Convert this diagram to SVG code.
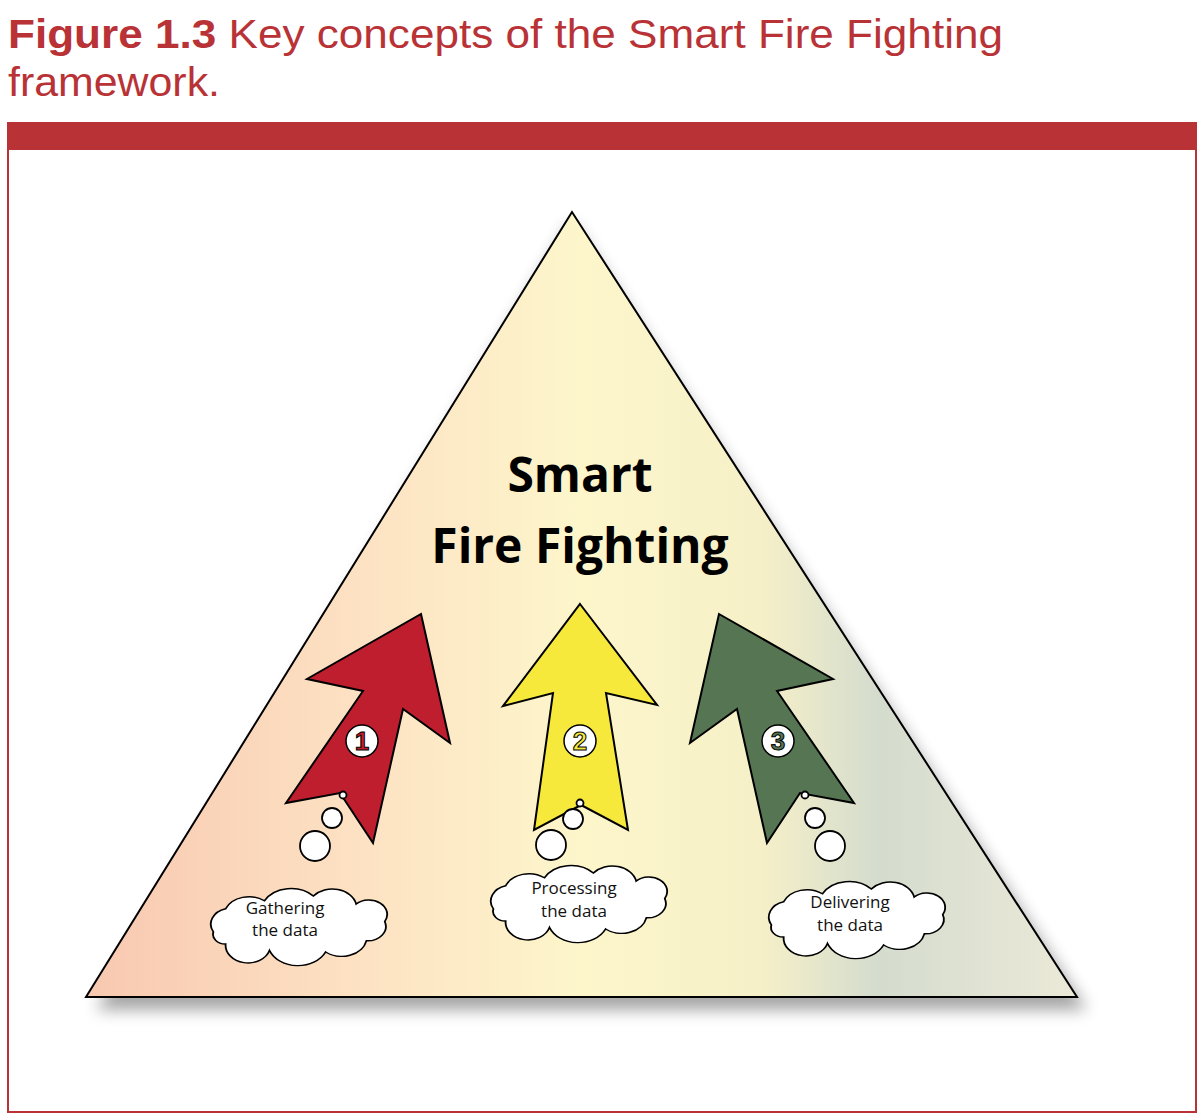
<svg xmlns="http://www.w3.org/2000/svg" width="1200" height="1120" viewBox="0 0 1200 1120">
<style>
.title{font-family:"Liberation Sans",Arial,sans-serif;font-size:41px;fill:#b83236}
.big{font-family:"Open Sans",sans-serif;font-weight:bold;font-size:48px;fill:#000;text-anchor:middle}
.lbl{font-family:"Open Sans",sans-serif;font-size:17px;fill:#111;text-anchor:middle}
.num{font-family:"Liberation Sans",Arial,sans-serif;font-weight:bold;font-size:26px;text-anchor:middle;stroke:#000;stroke-width:1}
.ln{stroke:#000;stroke-width:2;stroke-linejoin:miter}
.bub{fill:#fff;stroke:#000;stroke-width:1.8}
</style>
<defs>
<linearGradient id="tg" x1="86" y1="0" x2="1077" y2="0" gradientUnits="userSpaceOnUse">
<stop offset="0" stop-color="#f8c8b0"/>
<stop offset="0.3" stop-color="#fde4c4"/>
<stop offset="0.5" stop-color="#fdf6cb"/>
<stop offset="0.68" stop-color="#f6f0c8"/>
<stop offset="0.8" stop-color="#d4dcce"/>
<stop offset="1" stop-color="#ece9d8"/>
</linearGradient>
<filter id="sh" x="-10%" y="-10%" width="120%" height="130%"><feGaussianBlur stdDeviation="8"/></filter>
<path id="cloud" d="M -80,15 A20,20 0 0 1 -68,-14 A25,25 0 0 1 -30,-24 A30,30 0 0 1 18,-30 A24,24 0 0 1 60,-20 A18,18 0 0 1 88,2 A18,18 0 0 1 70,26 A25,25 0 0 1 30,40 A30,30 0 0 1 -25,38 A22,22 0 0 1 -68,30 A12,12 0 0 1 -80,15 Z"/>
</defs>
<rect width="1200" height="1120" fill="#fff"/>
<text class="title" x="8" y="48" textLength="995" lengthAdjust="spacingAndGlyphs"><tspan font-weight="bold">Figure 1.3</tspan> Key concepts of the Smart Fire Fighting</text>
<text class="title" x="8" y="96" textLength="212" lengthAdjust="spacingAndGlyphs">framework.</text>
<rect x="8" y="123" width="1188" height="989" fill="none" stroke="#b83236" stroke-width="2"/>
<rect x="7" y="123" width="1190" height="27" fill="#b83236"/>
<g id="triangle">
<polygon points="572,222 96,1010 1087,1010" fill="#000" opacity="0.35" filter="url(#sh)"/>
<polygon points="572,212 86,997 1077,997" fill="url(#tg)" class="ln"/>
</g>
<g id="title-main">
<text class="big" x="580" y="492">Smart</text>
<text class="big" x="580" y="563">Fire Fighting</text>
</g>
<g id="arrow1">
<polygon class="ln" fill="#be1e2d" points="421,614 450,743 403,709 373,843 340,793 286,803 363,691 307,679"/>
<circle cx="362" cy="741" r="16" fill="#fff" stroke="#000" stroke-width="1.5"/>
<text class="num" x="362" y="750" fill="#be1e2d">1</text>
</g>
<g id="arrow2">
<polygon class="ln" fill="#f6e93c" points="580,604 657,705 606,693 628,830 581,805 534,830 553,693 503,706"/>
<circle cx="580" cy="741" r="16" fill="#fff" stroke="#000" stroke-width="1.5"/>
<text class="num" x="580" y="750" fill="#f6e93c">2</text>
</g>
<g id="arrow3">
<polygon class="ln" fill="#567552" points="719,614 833,679 777,691 854,803 800,793 767,843 737,709 690,743"/>
<circle cx="778" cy="741" r="16" fill="#fff" stroke="#000" stroke-width="1.5"/>
<text class="num" x="778" y="750" fill="#567552">3</text>
</g>
<g id="cloud1">
<circle class="bub" cx="343" cy="795" r="3.5"/>
<circle class="bub" cx="332" cy="818" r="10"/>
<circle class="bub" cx="315" cy="846" r="15"/>
<use href="#cloud" class="bub" transform="translate(295,920) scale(1.02,0.8)"/>
<text class="lbl" x="285" y="914">Gathering</text>
<text class="lbl" x="285" y="936">the data</text>
</g>
<g id="cloud2">
<circle class="bub" cx="580" cy="803" r="3.5"/>
<circle class="bub" cx="573" cy="819" r="10"/>
<circle class="bub" cx="551" cy="845" r="15"/>
<use href="#cloud" class="bub" transform="translate(575,897) scale(1.02,0.8)"/>
<text class="lbl" x="574" y="894">Processing</text>
<text class="lbl" x="574" y="917">the data</text>
</g>
<g id="cloud3">
<circle class="bub" cx="805" cy="795" r="3.5"/>
<circle class="bub" cx="815" cy="818" r="10"/>
<circle class="bub" cx="830" cy="846" r="15"/>
<use href="#cloud" class="bub" transform="translate(853,913) scale(1.02,0.8)"/>
<text class="lbl" x="850" y="908">Delivering</text>
<text class="lbl" x="850" y="931">the data</text>
</g>
<g id="connectors"/>
</svg>
